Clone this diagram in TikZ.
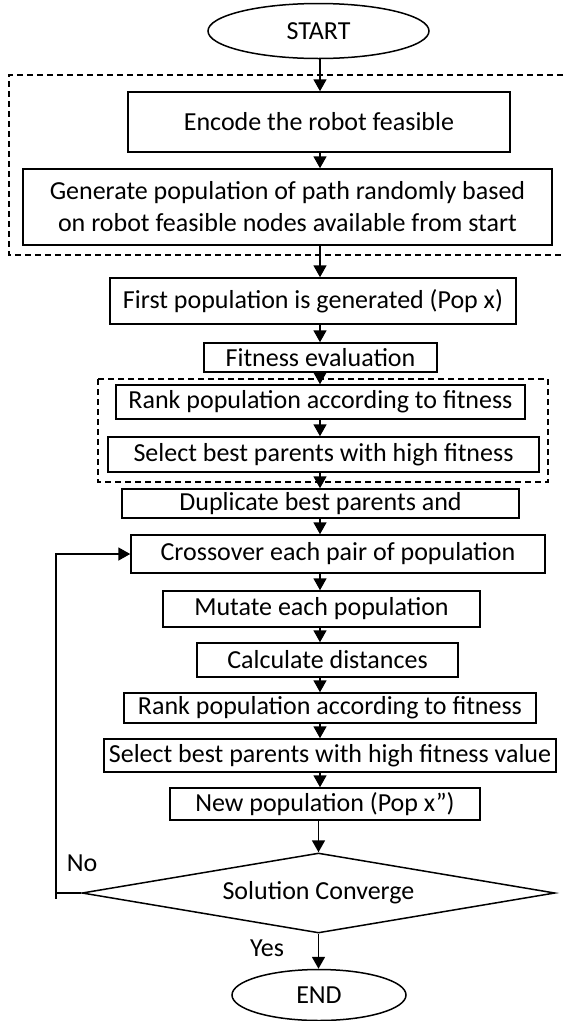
\documentclass[tikz,border=0pt]{standalone}
\usepackage{fontspec}
\setmainfont{Carlito}
\usetikzlibrary{shapes.geometric,arrows.meta,calc}
\tikzset{
  base/.style={font=\fontsize{26}{32}\selectfont, inner sep=0pt, align=center, line width=1.5pt},
  box/.style={base, draw, rectangle},
  term/.style={base, draw, ellipse},
  decision/.style={base, draw, diamond, aspect=5.9},
  arr/.style={line width=1.8pt, -{Triangle[width=13pt,length=12pt]}},
  plain/.style={line width=1.8pt},
  dashbox/.style={line width=1.4pt, dash pattern=on 6pt off 4pt},
  lbl/.style={font=\fontsize{26}{32}\selectfont, inner sep=0pt}
}
\begin{document}
\begin{tikzpicture}[x=1pt,y=-1pt]
\useasboundingbox[fill=white] (0,0) rectangle (563,1021);
% group frames
\draw[dashbox] (563,75) -- (9,75) -- (9,255) -- (563,255);
\draw[dashbox] (98,379) rectangle (548,482);
% nodes
\node[term, minimum width=221pt, minimum height=55pt] (start) at (318.5,31) {START};
\node[box, minimum width=382pt, minimum height=60pt] (encode) at (319,122) {Encode the robot feasible};
\node[box, minimum width=529pt, minimum height=76pt] (generate) at (287.5,207) {Generate population of path randomly based\\on robot feasible nodes available from start};
\node[box, minimum width=406pt, minimum height=46pt] (first) at (313,301) {First population is generated (Pop x)};
\node[box, minimum width=233pt, minimum height=29pt] (fitness) at (320.5,357.5) {Fitness evaluation};
\node[box, minimum width=409pt, minimum height=34pt] (rank1) at (320.5,402) {Rank population according to fitness};
\node[box, minimum width=431pt, minimum height=35pt] (select1) at (323.5,454.5) {Select best parents with high fitness};
\node[box, minimum width=397pt, minimum height=29pt] (dup) at (320.5,503.5) {Duplicate best parents and};
\node[box, minimum width=414pt, minimum height=38pt] (cross) at (338,554) {Crossover each pair of population};
\node[box, minimum width=317pt, minimum height=36pt] (mutate) at (321.5,609) {Mutate each population};
\node[box, minimum width=261pt, minimum height=34pt] (calc) at (327.5,660) {Calculate distances};
\node[box, minimum width=412pt, minimum height=30pt] (rank2) at (330,708) {Rank population according to fitness};
\node[box, minimum width=452pt, minimum height=33pt] (select2) at (330,755.5) {Select best parents with high fitness value};
\node[box, minimum width=310pt, minimum height=32pt] (newpop) at (325,804) {New population (Pop x'')};
\node[decision, minimum width=473pt, minimum height=80pt] (conv) at (318.5,893) {Solution Converge};
\node[term, minimum width=174pt, minimum height=51pt] (end) at (319,995) {END};
\node[lbl] (no) at (82,863) {No};
\node[lbl] (yes) at (267,948) {Yes};
% axis for vertical connectors
\coordinate (axis) at (320,0);
\coordinate (loopc) at (56,893);
% connectors
\draw[arr] (start.south -| axis) -- (encode.north -| axis);
\draw[arr] (encode.south -| axis) -- (generate.north -| axis);
\draw[arr] (generate.south -| axis) -- (first.north -| axis);
\draw[arr] (first.south -| axis) -- (fitness.north -| axis);
\draw[arr] (fitness.south -| axis) -- (rank1.north -| axis);
\draw[arr] (rank1.south -| axis) -- (select1.north -| axis);
\draw[arr] (select1.south -| axis) -- (dup.north -| axis);
\draw[arr] (dup.south -| axis) -- (cross.north -| axis);
\draw[arr] (cross.south -| axis) -- (mutate.north -| axis);
\draw[arr] (mutate.south -| axis) -- (calc.north -| axis);
\draw[arr] (calc.south -| axis) -- (rank2.north -| axis);
\draw[arr] (rank2.south -| axis) -- (select2.north -| axis);
\draw[arr] (select2.south -| axis) -- (newpop.north -| axis);
\draw[arr] (newpop.south -| conv) -- (conv.north);
\draw[arr] (conv.south) -- (end.north -| conv);
\draw[plain] (conv.west) -- (loopc) -- ++(0,6);
\draw[arr] (loopc) |- (cross.west);
\end{tikzpicture}
\end{document}
